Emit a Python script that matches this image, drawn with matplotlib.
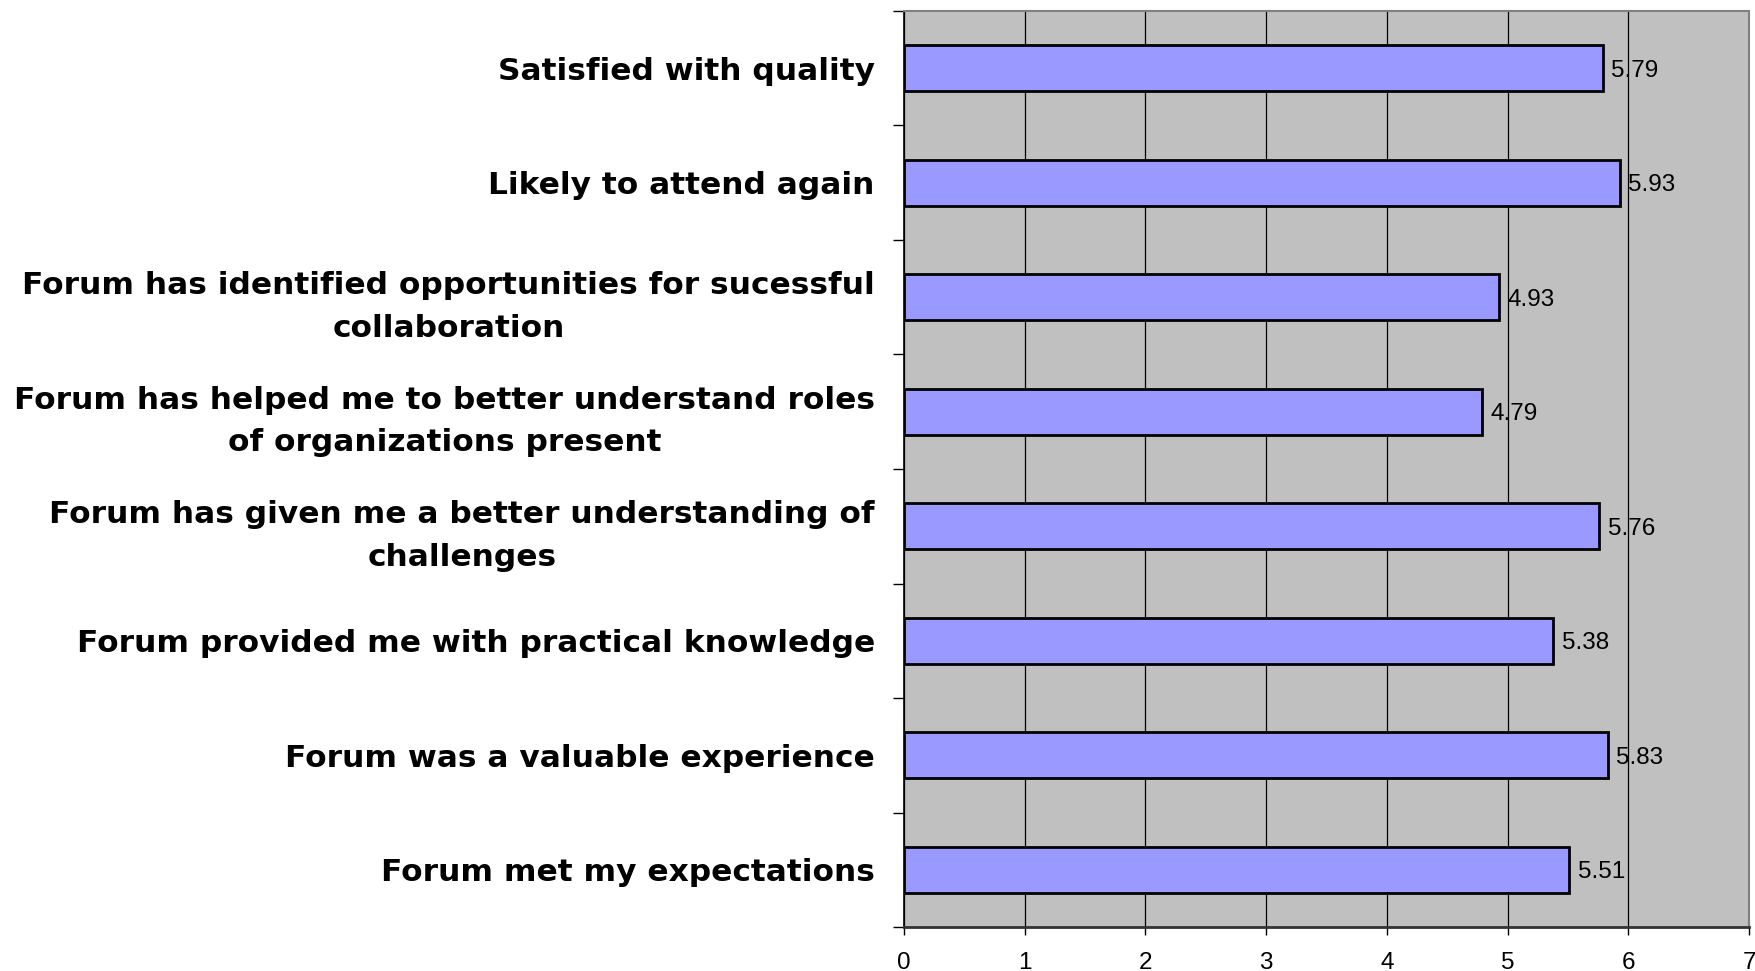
import matplotlib
matplotlib.use("Agg")
import matplotlib.pyplot as plt
from matplotlib.ticker import FixedLocator

plt.rcParams['font.family'] = ['Liberation Sans', 'DejaVu Sans']

# categories listed bottom to top
labels = [
    "Forum met my expectations",
    "Forum was a valuable experience",
    "Forum provided me with practical knowledge",
    "Forum has given me a better understanding of\nchallenges",
    "Forum has helped me to better understand roles\nof organizations present",
    "Forum has identified opportunities for sucessful\ncollaboration",
    "Likely to attend again",
    "Satisfied with quality",
]
scores = [5.51, 5.83, 5.38, 5.76, 4.79, 4.93, 5.93, 5.79]
xticks = [0, 1, 2, 3, 4, 5, 6, 7]

fig = plt.figure(figsize=(17.55, 9.71), dpi=100)
ax = fig.add_axes([904/1755, 1 - 927/971, (1749 - 904)/1755, (927 - 11)/971])
ax.set_facecolor('#c0c0c0')

pos = list(range(len(labels)))
ax.barh(pos, scores, height=0.4, color='#9999ff', edgecolor='black',
        linewidth=2, zorder=3)
for p, v in zip(pos, scores):
    ax.text(v + 0.07, p - 0.02, f"{v:.2f}", va='center', ha='left',
            fontsize=17.5, zorder=4)

ax.set_xlim(0, 7)
ax.set_ylim(-0.5, len(labels) - 0.5)
ax.set_xticks(xticks)
ax.set_xticklabels([str(t) for t in xticks], fontsize=17.5)
ax.xaxis.grid(True, color='black', linewidth=0.9, zorder=1)
ax.set_axisbelow(True)

ax.set_yticks(pos)
ax.set_yticklabels(labels, fontsize=22.5, fontweight='bold', family='DejaVu Sans',
                   multialignment='center', linespacing=1.58)
ax.yaxis.set_minor_locator(FixedLocator([p - 0.5 for p in pos] + [len(labels) - 0.5]))
ax.tick_params(axis='y', which='major', length=0, pad=21)
ax.tick_params(axis='y', which='minor', length=8, width=1, color='black')
ax.tick_params(axis='x', which='major', length=6, width=1, pad=12, color='black')

ax.spines['left'].set_color('black')
ax.spines['left'].set_linewidth(1.2)
ax.spines['bottom'].set_color('#333333')
ax.spines['bottom'].set_linewidth(2)
ax.spines['top'].set_color('#808080')
ax.spines['top'].set_linewidth(1.5)
ax.spines['right'].set_color('#808080')
ax.spines['right'].set_linewidth(1.5)

fig.savefig('out.png', dpi=100)
